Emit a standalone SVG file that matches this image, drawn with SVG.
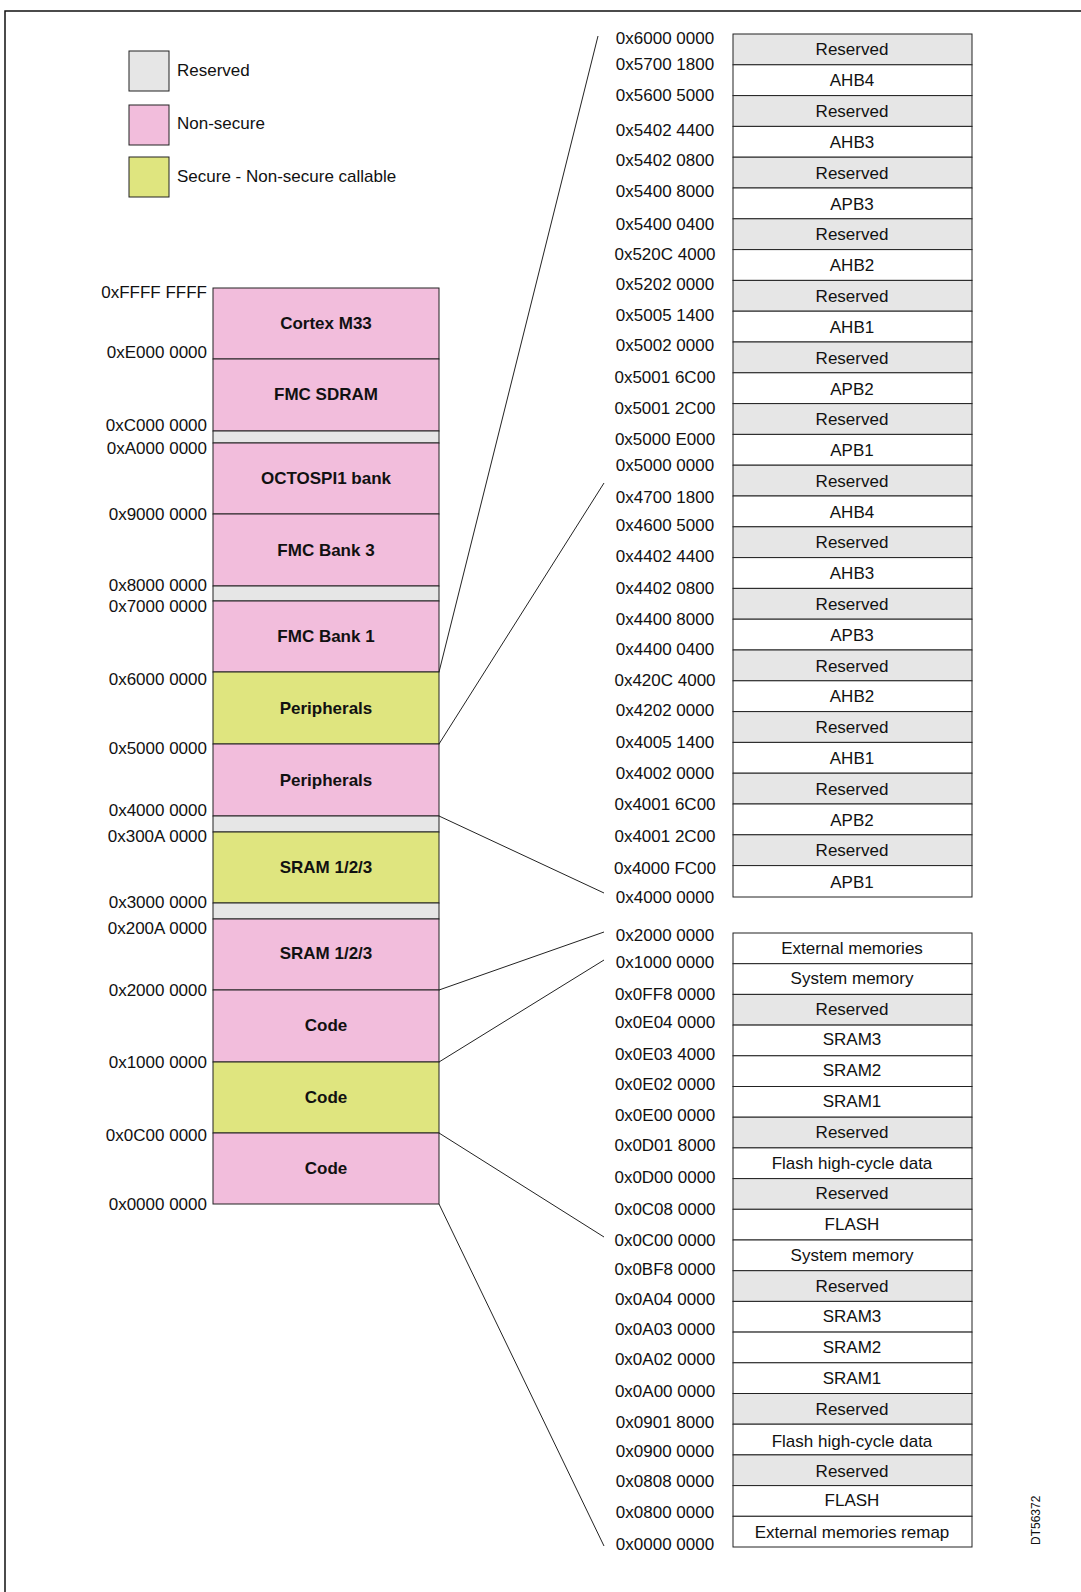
<svg xmlns="http://www.w3.org/2000/svg" width="1081" height="1592" viewBox="0 0 1081 1592">
<style>
text{font-family:"Liberation Sans",Arial,sans-serif;font-size:17px;fill:#111}
.a{text-anchor:end}
.c{text-anchor:middle}
.b{font-weight:bold;text-anchor:middle}
.r{fill:#e6e6e6;stroke:#222;stroke-width:1}
.w{fill:#fff;stroke:#222;stroke-width:1}
.p{fill:#f2bddc;stroke:#222;stroke-width:1}
.g{fill:#dfe57f;stroke:#222;stroke-width:1}
.l{stroke:#222;stroke-width:1;fill:none}
</style>
<rect x="5" y="11" width="1090" height="1600" fill="#fff" stroke="#111" stroke-width="1.5"/>
<g id="legend">
<rect class="r" x="129" y="51" width="40" height="40"/><text x="177" y="76">Reserved</text>
<rect class="p" x="129" y="105" width="40" height="40"/><text x="177" y="129">Non-secure</text>
<rect class="g" x="129" y="157" width="40" height="40"/><text x="177" y="182">Secure - Non-secure callable</text>
</g>
<g id="map">
<rect class="p" x="213" y="288" width="226" height="71"/><text class="b" x="326" y="329">Cortex M33</text>
<rect class="p" x="213" y="359" width="226" height="72"/><text class="b" x="326" y="400">FMC SDRAM</text>
<rect class="r" x="213" y="431" width="226" height="12"/>
<rect class="p" x="213" y="443" width="226" height="71"/><text class="b" x="326" y="484">OCTOSPI1 bank</text>
<rect class="p" x="213" y="514" width="226" height="72"/><text class="b" x="326" y="556">FMC Bank 3</text>
<rect class="r" x="213" y="586" width="226" height="15"/>
<rect class="p" x="213" y="601" width="226" height="71"/><text class="b" x="326" y="642">FMC Bank 1</text>
<rect class="g" x="213" y="672" width="226" height="72"/><text class="b" x="326" y="714">Peripherals</text>
<rect class="p" x="213" y="744" width="226" height="72"/><text class="b" x="326" y="786">Peripherals</text>
<rect class="r" x="213" y="816" width="226" height="16"/>
<rect class="g" x="213" y="832" width="226" height="71"/><text class="b" x="326" y="873">SRAM 1/2/3</text>
<rect class="r" x="213" y="903" width="226" height="16"/>
<rect class="p" x="213" y="919" width="226" height="71"/><text class="b" x="326" y="959">SRAM 1/2/3</text>
<rect class="p" x="213" y="990" width="226" height="72"/><text class="b" x="326" y="1031">Code</text>
<rect class="g" x="213" y="1062" width="226" height="71"/><text class="b" x="326" y="1103">Code</text>
<rect class="p" x="213" y="1133" width="226" height="71"/><text class="b" x="326" y="1174">Code</text>
<text class="a" x="207" y="298">0xFFFF FFFF</text>
<text class="a" x="207" y="358">0xE000 0000</text>
<text class="a" x="207" y="431">0xC000 0000</text>
<text class="a" x="207" y="454">0xA000 0000</text>
<text class="a" x="207" y="520">0x9000 0000</text>
<text class="a" x="207" y="591">0x8000 0000</text>
<text class="a" x="207" y="612">0x7000 0000</text>
<text class="a" x="207" y="685">0x6000 0000</text>
<text class="a" x="207" y="754">0x5000 0000</text>
<text class="a" x="207" y="816">0x4000 0000</text>
<text class="a" x="207" y="842">0x300A 0000</text>
<text class="a" x="207" y="908">0x3000 0000</text>
<text class="a" x="207" y="934">0x200A 0000</text>
<text class="a" x="207" y="996">0x2000 0000</text>
<text class="a" x="207" y="1068">0x1000 0000</text>
<text class="a" x="207" y="1141">0x0C00 0000</text>
<text class="a" x="207" y="1210">0x0000 0000</text>
</g>
<g id="periph">
<rect class="r" x="733" y="34.0" width="239" height="30.8"/><text class="c" x="852" y="55">Reserved</text>
<rect class="w" x="733" y="64.8" width="239" height="30.8"/><text class="c" x="852" y="86">AHB4</text>
<rect class="r" x="733" y="95.6" width="239" height="30.8"/><text class="c" x="852" y="117">Reserved</text>
<rect class="w" x="733" y="126.4" width="239" height="30.8"/><text class="c" x="852" y="148">AHB3</text>
<rect class="r" x="733" y="157.2" width="239" height="30.8"/><text class="c" x="852" y="179">Reserved</text>
<rect class="w" x="733" y="188.0" width="239" height="30.8"/><text class="c" x="852" y="210">APB3</text>
<rect class="r" x="733" y="218.8" width="239" height="30.8"/><text class="c" x="852" y="240">Reserved</text>
<rect class="w" x="733" y="249.6" width="239" height="30.8"/><text class="c" x="852" y="271">AHB2</text>
<rect class="r" x="733" y="280.4" width="239" height="30.8"/><text class="c" x="852" y="302">Reserved</text>
<rect class="w" x="733" y="311.2" width="239" height="30.8"/><text class="c" x="852" y="333">AHB1</text>
<rect class="r" x="733" y="342.0" width="239" height="30.8"/><text class="c" x="852" y="364">Reserved</text>
<rect class="w" x="733" y="372.8" width="239" height="30.8"/><text class="c" x="852" y="395">APB2</text>
<rect class="r" x="733" y="403.6" width="239" height="30.8"/><text class="c" x="852" y="425">Reserved</text>
<rect class="w" x="733" y="434.4" width="239" height="30.8"/><text class="c" x="852" y="456">APB1</text>
<rect class="r" x="733" y="465.2" width="239" height="30.8"/><text class="c" x="852" y="487">Reserved</text>
<rect class="w" x="733" y="496.0" width="239" height="30.8"/><text class="c" x="852" y="518">AHB4</text>
<rect class="r" x="733" y="526.8" width="239" height="30.8"/><text class="c" x="852" y="548">Reserved</text>
<rect class="w" x="733" y="557.6" width="239" height="30.8"/><text class="c" x="852" y="579">AHB3</text>
<rect class="r" x="733" y="588.4" width="239" height="30.8"/><text class="c" x="852" y="610">Reserved</text>
<rect class="w" x="733" y="619.2" width="239" height="30.8"/><text class="c" x="852" y="641">APB3</text>
<rect class="r" x="733" y="650.0" width="239" height="30.8"/><text class="c" x="852" y="672">Reserved</text>
<rect class="w" x="733" y="680.8" width="239" height="30.8"/><text class="c" x="852" y="702">AHB2</text>
<rect class="r" x="733" y="711.6" width="239" height="30.8"/><text class="c" x="852" y="733">Reserved</text>
<rect class="w" x="733" y="742.4" width="239" height="30.8"/><text class="c" x="852" y="764">AHB1</text>
<rect class="r" x="733" y="773.2" width="239" height="30.8"/><text class="c" x="852" y="795">Reserved</text>
<rect class="w" x="733" y="804.0" width="239" height="30.8"/><text class="c" x="852" y="826">APB2</text>
<rect class="r" x="733" y="834.8" width="239" height="30.8"/><text class="c" x="852" y="856">Reserved</text>
<rect class="w" x="733" y="865.6" width="239" height="31.4"/><text class="c" x="852" y="888">APB1</text>
<text class="c" x="665" y="44">0x6000 0000</text>
<text class="c" x="665" y="70">0x5700 1800</text>
<text class="c" x="665" y="101">0x5600 5000</text>
<text class="c" x="665" y="136">0x5402 4400</text>
<text class="c" x="665" y="166">0x5402 0800</text>
<text class="c" x="665" y="197">0x5400 8000</text>
<text class="c" x="665" y="230">0x5400 0400</text>
<text class="c" x="665" y="260">0x520C 4000</text>
<text class="c" x="665" y="290">0x5202 0000</text>
<text class="c" x="665" y="321">0x5005 1400</text>
<text class="c" x="665" y="351">0x5002 0000</text>
<text class="c" x="665" y="383">0x5001 6C00</text>
<text class="c" x="665" y="414">0x5001 2C00</text>
<text class="c" x="665" y="445">0x5000 E000</text>
<text class="c" x="665" y="471">0x5000 0000</text>
<text class="c" x="665" y="503">0x4700 1800</text>
<text class="c" x="665" y="531">0x4600 5000</text>
<text class="c" x="665" y="562">0x4402 4400</text>
<text class="c" x="665" y="594">0x4402 0800</text>
<text class="c" x="665" y="625">0x4400 8000</text>
<text class="c" x="665" y="655">0x4400 0400</text>
<text class="c" x="665" y="686">0x420C 4000</text>
<text class="c" x="665" y="716">0x4202 0000</text>
<text class="c" x="665" y="748">0x4005 1400</text>
<text class="c" x="665" y="779">0x4002 0000</text>
<text class="c" x="665" y="810">0x4001 6C00</text>
<text class="c" x="665" y="842">0x4001 2C00</text>
<text class="c" x="665" y="874">0x4000 FC00</text>
<text class="c" x="665" y="903">0x4000 0000</text>
</g>
<g id="code">
<rect class="w" x="733" y="933.0" width="239" height="30.7"/><text class="c" x="852" y="954">External memories</text>
<rect class="w" x="733" y="963.7" width="239" height="30.7"/><text class="c" x="852" y="984">System memory</text>
<rect class="r" x="733" y="994.4" width="239" height="30.7"/><text class="c" x="852" y="1015">Reserved</text>
<rect class="w" x="733" y="1025.1" width="239" height="30.7"/><text class="c" x="852" y="1045">SRAM3</text>
<rect class="w" x="733" y="1055.8" width="239" height="30.7"/><text class="c" x="852" y="1076">SRAM2</text>
<rect class="w" x="733" y="1086.5" width="239" height="30.7"/><text class="c" x="852" y="1107">SRAM1</text>
<rect class="r" x="733" y="1117.2" width="239" height="30.7"/><text class="c" x="852" y="1138">Reserved</text>
<rect class="w" x="733" y="1147.9" width="239" height="30.7"/><text class="c" x="852" y="1169">Flash high-cycle data</text>
<rect class="r" x="733" y="1178.6" width="239" height="30.7"/><text class="c" x="852" y="1199">Reserved</text>
<rect class="w" x="733" y="1209.3" width="239" height="30.7"/><text class="c" x="852" y="1230">FLASH</text>
<rect class="w" x="733" y="1240.0" width="239" height="30.7"/><text class="c" x="852" y="1261">System memory</text>
<rect class="r" x="733" y="1270.7" width="239" height="30.7"/><text class="c" x="852" y="1292">Reserved</text>
<rect class="w" x="733" y="1301.4" width="239" height="30.7"/><text class="c" x="852" y="1322">SRAM3</text>
<rect class="w" x="733" y="1332.1" width="239" height="30.7"/><text class="c" x="852" y="1353">SRAM2</text>
<rect class="w" x="733" y="1362.8" width="239" height="30.7"/><text class="c" x="852" y="1384">SRAM1</text>
<rect class="r" x="733" y="1393.5" width="239" height="30.7"/><text class="c" x="852" y="1415">Reserved</text>
<rect class="w" x="733" y="1424.2" width="239" height="30.7"/><text class="c" x="852" y="1447">Flash high-cycle data</text>
<rect class="r" x="733" y="1454.9" width="239" height="30.7"/><text class="c" x="852" y="1477">Reserved</text>
<rect class="w" x="733" y="1485.6" width="239" height="30.7"/><text class="c" x="852" y="1506">FLASH</text>
<rect class="w" x="733" y="1516.3" width="239" height="30.7"/><text class="c" x="852" y="1538">External memories remap</text>
<text class="c" x="665" y="941">0x2000 0000</text>
<text class="c" x="665" y="968">0x1000 0000</text>
<text class="c" x="665" y="1000">0x0FF8 0000</text>
<text class="c" x="665" y="1028">0x0E04 0000</text>
<text class="c" x="665" y="1060">0x0E03 4000</text>
<text class="c" x="665" y="1090">0x0E02 0000</text>
<text class="c" x="665" y="1121">0x0E00 0000</text>
<text class="c" x="665" y="1151">0x0D01 8000</text>
<text class="c" x="665" y="1183">0x0D00 0000</text>
<text class="c" x="665" y="1215">0x0C08 0000</text>
<text class="c" x="665" y="1246">0x0C00 0000</text>
<text class="c" x="665" y="1275">0x0BF8 0000</text>
<text class="c" x="665" y="1305">0x0A04 0000</text>
<text class="c" x="665" y="1335">0x0A03 0000</text>
<text class="c" x="665" y="1365">0x0A02 0000</text>
<text class="c" x="665" y="1397">0x0A00 0000</text>
<text class="c" x="665" y="1428">0x0901 8000</text>
<text class="c" x="665" y="1457">0x0900 0000</text>
<text class="c" x="665" y="1487">0x0808 0000</text>
<text class="c" x="665" y="1518">0x0800 0000</text>
<text class="c" x="665" y="1550">0x0000 0000</text>
</g>
<g id="connectors">
<line class="l" x1="439" y1="672" x2="598" y2="36"/>
<line class="l" x1="439" y1="744" x2="604" y2="483"/>
<line class="l" x1="439" y1="816" x2="604" y2="893"/>
<line class="l" x1="439" y1="990" x2="604" y2="932"/>
<line class="l" x1="439" y1="1062" x2="604" y2="960"/>
<line class="l" x1="439" y1="1133" x2="604" y2="1237"/>
<line class="l" x1="439" y1="1204" x2="604" y2="1546"/>
</g>
<text x="1040" y="1545" transform="rotate(-90 1040 1545)" style="font-size:12px">DT56372</text>
</svg>
